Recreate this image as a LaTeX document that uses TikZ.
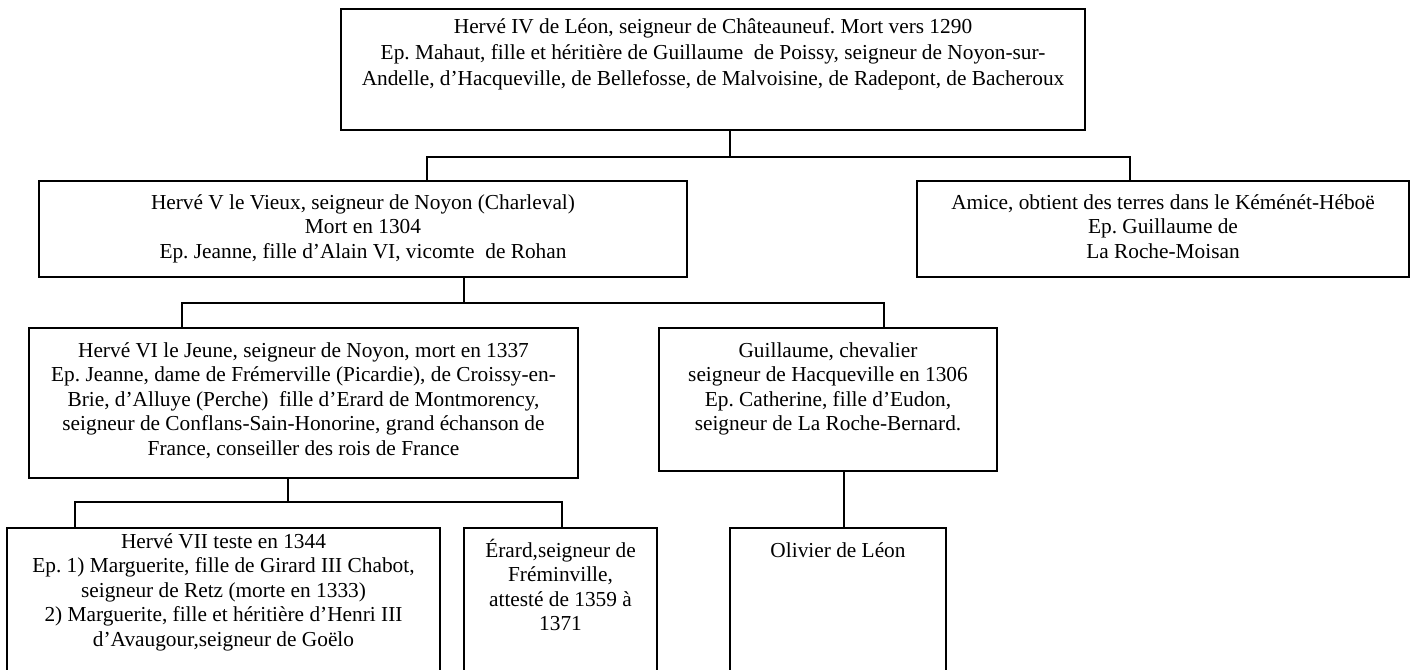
\documentclass[tikz,border=0pt]{standalone}
\usepackage{fontspec}
\setmainfont{Liberation Serif}
\frenchspacing
\begin{document}
\begin{tikzpicture}[x=1pt,y=-1pt,
  box/.style={draw, line width=1.7pt, inner sep=0pt, fill=white},
  conn/.style={draw, line width=1.7pt, line join=miter},
  txt/.style={anchor=base, inner sep=0pt, font=\fontsize{21.33}{24.5}\selectfont\frenchspacing},
  txtwide/.style={anchor=base, inner sep=0pt, font=\fontsize{21.33}{26}\selectfont\frenchspacing}]
\useasboundingbox (0,0) rectangle (1412,669);
\fill[white] (0,0) rectangle (1412,669);
\clip (0,0) rectangle (1412,669);

% family boxes
\node[box, minimum width=744pt, minimum height=121pt] (top) at (713,69.5) {};
\node[box, minimum width=648pt, minimum height=96pt] (hv) at (363,229) {};
\node[box, minimum width=492pt, minimum height=96pt] (am) at (1163,229) {};
\node[box, minimum width=549pt, minimum height=150pt] (h6) at (303.5,403) {};
\node[box, minimum width=338pt, minimum height=143pt] (gu) at (828,399.5) {};
\node[box, minimum width=433pt, minimum height=172pt] (h7) at (223.5,614) {};
\node[box, minimum width=193pt, minimum height=172pt] (er) at (560.5,614) {};
\node[box, minimum width=216pt, minimum height=172pt] (ol) at (838,614) {};

% junction points of the connectors
\coordinate (j1) at (730,157);
\coordinate (j1a) at (427,157);
\coordinate (j1b) at (1130,157);
\coordinate (j2) at (464,303);
\coordinate (j2a) at (182,303);
\coordinate (j2b) at (884,303);
\coordinate (j3) at (288,502);
\coordinate (j3a) at (75,502);
\coordinate (j3b) at (562,502);
\coordinate (j4) at (844,500);

% connectors
\draw[conn] (top.south -| j1) -- (j1);
\draw[conn] (hv.north -| j1a) -- (j1a) -- (j1b) -- (am.north -| j1b);
\draw[conn] (hv.south -| j2) -- (j2);
\draw[conn] (h6.north -| j2a) -- (j2a) -- (j2b) -- (gu.north -| j2b);
\draw[conn] (h6.south -| j3) -- (j3);
\draw[conn] (h7.north -| j3a) -- (j3a) -- (j3b) -- (er.north -| j3b);
\draw[conn] (gu.south -| j4) -- (ol.north -| j4);

% texts
\node[txtwide] (t-top) at (713,34) {\begin{tabular}[t]{@{}c@{}}
Hervé IV de Léon, seigneur de Châteauneuf. Mort vers 1290\\
Ep. Mahaut, fille et héritière de Guillaume\ \ de Poissy, seigneur de Noyon-sur-\\
Andelle, d’Hacqueville, de Bellefosse, de Malvoisine, de Radepont, de Bacheroux
\end{tabular}};
\node[txt] (t-hv) at (363,209) {\begin{tabular}[t]{@{}c@{}}
Hervé V le Vieux, seigneur de Noyon (Charleval)\\
Mort en 1304\\
Ep. Jeanne, fille d’Alain VI, vicomte\ \ de Rohan
\end{tabular}};
\node[txt] (t-am) at (1163,209) {\begin{tabular}[t]{@{}c@{}}
Amice, obtient des terres dans le Kéménét-Héboë\\
Ep. Guillaume de\\
La Roche-Moisan
\end{tabular}};
\node[txt] (t-h6) at (303.5,357) {\begin{tabular}[t]{@{}c@{}}
Hervé VI le Jeune, seigneur de Noyon, mort en 1337\\
Ep. Jeanne, dame de Frémerville (Picardie), de Croissy-en-\\
Brie, d’Alluye (Perche)\ \ fille d’Erard de Montmorency,\\
seigneur de Conflans-Sain-Honorine, grand échanson de\\
France, conseiller des rois de France
\end{tabular}};
\node[txt] (t-gu) at (828,357) {\begin{tabular}[t]{@{}c@{}}
Guillaume, chevalier\\
seigneur de Hacqueville en 1306\\
Ep. Catherine, fille d’Eudon,\\
seigneur de La Roche-Bernard.
\end{tabular}};
\node[txt] (t-h7) at (223.5,548) {\begin{tabular}[t]{@{}c@{}}
Hervé VII teste en 1344\\
Ep. 1) Marguerite, fille de Girard III Chabot,\\
seigneur de Retz (morte en 1333)\\
2) Marguerite, fille et héritière d’Henri III\\
d’Avaugour,seigneur de Goëlo
\end{tabular}};
\node[txt] (t-er) at (560.5,557) {\begin{tabular}[t]{@{}c@{}}
Érard,seigneur de\\
Fréminville,\\
attesté de 1359 à\\
1371
\end{tabular}};
\node[txt] (t-ol) at (838,557) {Olivier de Léon};
\end{tikzpicture}
\end{document}
